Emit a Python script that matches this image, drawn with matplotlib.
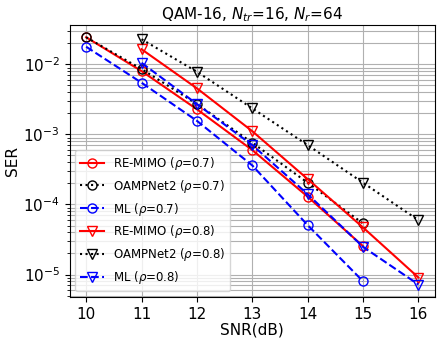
import matplotlib
matplotlib.use('Agg')
import matplotlib.pyplot as plt

snr_07 = [10, 11, 12, 13, 14, 15]
snr_08 = [11, 12, 13, 14, 15, 16]

remimo_07 = [0.0243, 0.0080, 0.00228, 0.000597, 0.000129, 2.54e-5]
oamp_07 = [0.0243, 0.00857, 0.00271, 0.00076, 0.000204, 5.35e-5]
ml_07 = [0.0178, 0.00546, 0.00156, 0.00036, 5.06e-5, 8.0e-6]

remimo_08 = [0.0164, 0.00454, 0.00111, 0.00023, 4.69e-5, 9.06e-6]
oamp_08 = [0.0228, 0.00783, 0.00235, 0.000703, 0.000204, 5.97e-5]
ml_08 = [0.0105, 0.00271, 0.000703, 0.00014, 2.48e-5, 7.2e-6]

fig, ax = plt.subplots(figsize=(4.43, 3.46), dpi=100)

ax.semilogy(snr_07, remimo_07, 'r-o', mfc='none', ms=6.5, label=r'RE-MIMO ($\rho$=0.7)')
ax.semilogy(snr_07, oamp_07, 'k:o', mfc='none', ms=6.5, label=r'OAMPNet2 ($\rho$=0.7)')
ax.semilogy(snr_07, ml_07, 'b--o', mfc='none', ms=6.5, label=r'ML ($\rho$=0.7)')
ax.semilogy(snr_08, remimo_08, 'r-v', mfc='none', ms=6.5, label=r'RE-MIMO ($\rho$=0.8)')
ax.semilogy(snr_08, oamp_08, 'k:v', mfc='none', ms=6.5, label=r'OAMPNet2 ($\rho$=0.8)')
ax.semilogy(snr_08, ml_08, 'b--v', mfc='none', ms=6.5, label=r'ML ($\rho$=0.8)')

ax.grid(True, which='both', color='#b0b0b0', linewidth=0.8)
ax.set_xlabel('SNR(dB)', fontsize=11, labelpad=1)
ax.set_ylabel('SER', fontsize=11, labelpad=2)
ax.set_title(r'QAM-16, $N_{tr}$=16, $N_r$=64', fontsize=11, pad=4)
ax.tick_params(labelsize=11)
ax.legend(loc='lower left', fontsize=8.5)

plt.subplots_adjust(left=0.157, right=0.982, top=0.928, bottom=0.142)
plt.savefig('out.png', dpi=100)
